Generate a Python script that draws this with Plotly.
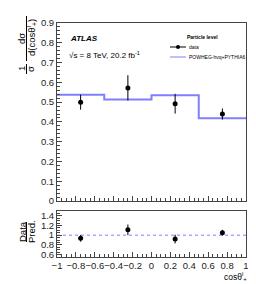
import plotly.graph_objects as go

# Data
bin_edges = [-1.0, -0.5, 0.0, 0.5, 1.0]
bin_centers = [-0.75, -0.25, 0.25, 0.75]
data_vals = [0.50, 0.572, 0.492, 0.44]
data_errs = [0.038, 0.064, 0.05, 0.028]
pred_vals = [0.538, 0.513, 0.535, 0.419]
ratio_vals = [0.935, 1.11, 0.92, 1.05]
ratio_errs = [0.07, 0.11, 0.09, 0.06]

FONT = "Liberation Sans, Arial, Helvetica, sans-serif"
BLUE = "#7f7fff"

# pixel -> paper helpers (plot area: x 49..238, y 15..249)
L, R, T, B = 49, 238, 15, 249
def px(x):
    return (x - L) / (R - L)
def py(y):
    return (B - y) / (B - T)

fig = go.Figure()

fig.add_trace(go.Scatter(
    x=bin_edges, y=pred_vals + [pred_vals[-1]], mode="lines", line_shape="hv",
    line=dict(color=BLUE, width=2), name="POWHEG-hvq+PYTHIA6",
    xaxis="x", yaxis="y", showlegend=False, hoverinfo="skip"))

fig.add_trace(go.Scatter(
    x=bin_centers, y=data_vals, mode="markers",
    marker=dict(color="black", size=5),
    error_y=dict(type="data", array=data_errs, color="black", thickness=1, width=0),
    name="data", xaxis="x", yaxis="y", showlegend=False))

fig.add_trace(go.Scatter(
    x=[bin_edges[0], bin_edges[-1]], y=[1, 1], mode="lines",
    line=dict(color=BLUE, width=1, dash="dot"),
    xaxis="x2", yaxis="y2", showlegend=False, hoverinfo="skip"))

fig.add_trace(go.Scatter(
    x=bin_centers, y=ratio_vals, mode="markers",
    marker=dict(color="black", size=5),
    error_y=dict(type="data", array=ratio_errs, color="black", thickness=1, width=0),
    xaxis="x2", yaxis="y2", showlegend=False))

axis_common = dict(showline=True, linecolor="#444", linewidth=1, mirror=True,
                   ticks="inside", ticklen=5, tickcolor="#444", showgrid=False,
                   zeroline=False, tickangle=0,
                   tickfont=dict(size=9.5, color="#222", family=FONT))
minor = dict(ticks="inside", ticklen=3, tickcolor="#444")

fig.update_layout(
    width=256, height=284,
    margin=dict(l=L, r=256 - R, t=T, b=284 - B, autoexpand=False),
    paper_bgcolor="white", plot_bgcolor="white",
    font=dict(family=FONT, color="black"),
    showlegend=False,
    xaxis=dict(domain=[0, 1], anchor="y", range=[-1, 1], dtick=0.2,
               showticklabels=False, minor=dict(dtick=0.05, **minor), **axis_common),
    yaxis=dict(domain=[0.239, 1], anchor="x", range=[0, 0.9], dtick=0.1,
               minor=dict(dtick=0.02, **minor), **axis_common),
    xaxis2=dict(domain=[0, 1], anchor="y2", range=[-1, 1], dtick=0.2,
                minor=dict(dtick=0.05, **minor), **axis_common),
    yaxis2=dict(domain=[0, 0.197], anchor="x2", range=[0.55, 1.5],
                tickvals=[0.6, 0.8, 1.0, 1.2, 1.4],
                minor=dict(dtick=0.05, **minor), **axis_common),
)

def ann(text, x, y, size, xanchor="left", angle=0):
    return dict(text=text, x=x, y=y, xref="paper", yref="paper", xanchor=xanchor,
                yanchor="middle", showarrow=False, textangle=angle, borderpad=0,
                font=dict(size=size, family=FONT, color="black"))

annotations = [
    ann("<b><i>ATLAS</i></b>", px(61), py(30), 8),
    ann("√s = 8 TeV, 20.2 fb<sup>-1</sup>", px(60), py(47), 8),
    ann("<b>Particle level</b>", px(178), py(29), 5),
    ann("data", px(180), py(39), 5),
    ann("POWHEG-hvq+PYTHIA6", px(180), py(49), 5),
    ann("cosθ<sup>l</sup><sub>+</sub>", px(240), py(268), 8.5, xanchor="right"),
    # y title main (rotated fraction)
    ann("dσ", px(14), py(31), 9.5, xanchor="center", angle=-90),
    ann("d(cosθ<sup>l</sup><sub>+</sub>)", px(23), py(30), 9.5, xanchor="center", angle=-90),
    ann("1", px(14), py(61), 9.5, xanchor="center", angle=-90),
    ann("σ", px(23), py(61), 9.5, xanchor="center", angle=-90),
    # ratio title
    ann("Data", px(14), py(224), 9.5, xanchor="center", angle=-90),
    ann("Pred.", px(23), py(224), 9.5, xanchor="center", angle=-90),
]

shapes = [
    dict(type="line", xref="paper", yref="paper", x0=px(18.5), x1=px(18.5),
         y0=py(8), y1=py(53), line=dict(color="black", width=1)),
    dict(type="line", xref="paper", yref="paper", x0=px(18.5), x1=px(18.5),
         y0=py(56), y1=py(66), line=dict(color="black", width=1)),
    dict(type="line", xref="paper", yref="paper", x0=px(18.5), x1=px(18.5),
         y0=py(214), y1=py(234), line=dict(color="black", width=1)),
    # legend symbols
    dict(type="line", xref="paper", yref="paper", x0=px(162), x1=px(178),
         y0=py(39), y1=py(39), line=dict(color="black", width=1)),
    dict(type="line", xref="paper", yref="paper", x0=px(162), x1=px(178),
         y0=py(49), y1=py(49), line=dict(color=BLUE, width=1)),
    dict(type="circle", xref="paper", yref="paper", x0=px(168), x1=px(172),
         y0=py(41), y1=py(37), fillcolor="black", line=dict(color="black", width=0)),
]

fig.update_layout(annotations=annotations, shapes=shapes)

fig.write_html("out.html")
